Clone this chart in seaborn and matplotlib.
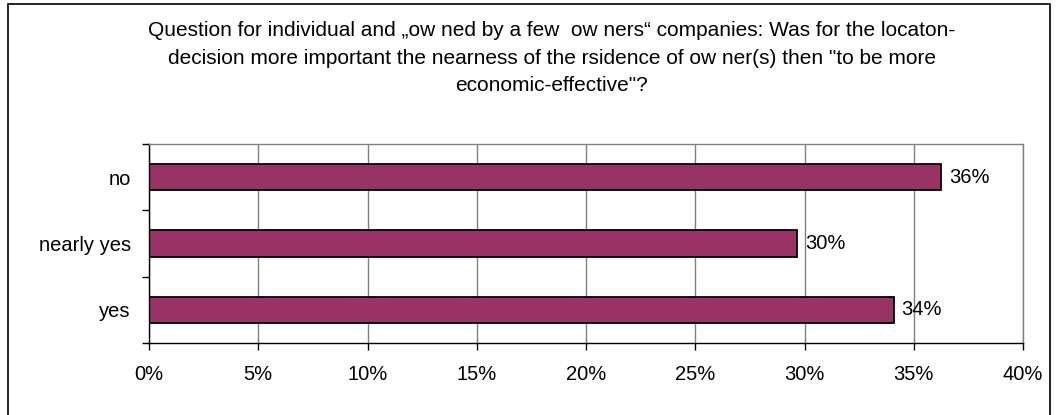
import numpy as np
import pandas as pd
import matplotlib
matplotlib.use("Agg")
import matplotlib.pyplot as plt
import seaborn as sns
from matplotlib.patches import Rectangle
from matplotlib.ticker import MultipleLocator, PercentFormatter

# ── Data ──────────────────────────────────────────────────────────────────────
categories = ["no", "nearly yes", "yes"]
shares     = [36.25, 29.67, 34.08]
labels     = ["36%", "30%", "34%"]
title = ("Question for individual and \u201eow ned by a few  ow ners\u201c companies: Was for the locaton-\n"
         "decision more important the nearness of the rsidence of ow ner(s) then \"to be more\n"
         "economic-effective\"?")

BAR = "#993366"
GRID = "#808080"
FS = 14.5

sns.set_theme(style="white")
plt.rcParams["font.family"] = ["Liberation Sans", "DejaVu Sans"]

df = pd.DataFrame({"answer": categories, "share": shares})

fig = plt.figure(figsize=(10.56, 4.15), dpi=100)
ax = fig.add_axes([149 / 1056, 1 - 343 / 415, (1023 - 149) / 1056, (343 - 144) / 415])

sns.barplot(data=df, x="share", y="answer", order=categories, color=BAR,
            saturation=1, width=0.4, edgecolor="black", linewidth=1.3, ax=ax)

for i, (v, lab) in enumerate(zip(shares, labels)):
    ax.text(v + 0.35, i, lab, va="center", ha="left", fontsize=FS, color="black")

ax.set_xlim(0, 40)
ax.set_ylim(2.5, -0.5)
ax.xaxis.set_major_locator(MultipleLocator(5))
ax.xaxis.set_major_formatter(PercentFormatter(decimals=0))
ax.grid(axis="x", color=GRID, linewidth=1)
ax.set_axisbelow(True)
ax.set_xlabel("")
ax.set_ylabel("")

# y ticks sit between categories, labels centred on the bars
ax.set_yticks([-0.5, 0.5, 1.5, 2.5])
ax.set_yticklabels([])
ax.set_yticks(range(len(categories)), minor=True)
ax.set_yticklabels(categories, minor=True)
ax.tick_params(axis="y", which="major", direction="out", length=5, width=1, color="black", left=True)
ax.tick_params(axis="y", which="minor", length=0, pad=13, labelsize=FS, labelcolor="black")
ax.tick_params(axis="x", direction="out", length=5, width=1, color="black", bottom=True,
               pad=11, labelsize=FS, labelcolor="black")

for side in ["left", "bottom"]:
    ax.spines[side].set_color("black")
    ax.spines[side].set_linewidth(1)
for side in ["top", "right"]:
    ax.spines[side].set_color(GRID)
    ax.spines[side].set_linewidth(1)

fig.text(552 / 1056, 1 - 21 / 415, title, ha="center", va="top", fontsize=15,
         linespacing=1.58, color="black")

# chart area frame
fig.patches.append(Rectangle((8 / 1056, -0.05), (1050 - 8) / 1056, 1.05 - 4 / 415,
                             transform=fig.transFigure, fill=False,
                             edgecolor="black", linewidth=1.2))

fig.savefig("out.png", dpi=100)
